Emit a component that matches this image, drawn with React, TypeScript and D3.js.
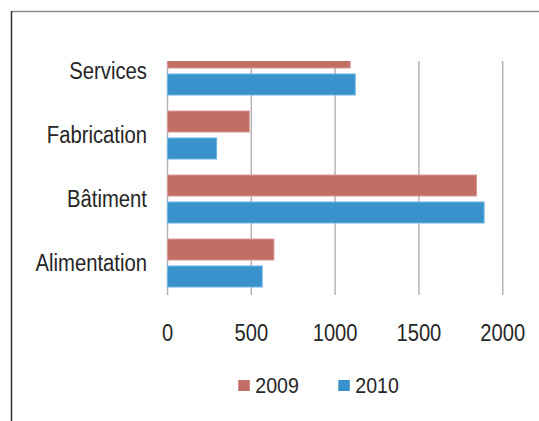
import React from 'react';
import * as d3 from 'd3';

// Chart data
const categories = ['Services', 'Fabrication', 'Bâtiment', 'Alimentation'];
const seriesNames = ['2009', '2010'];
const values2009 = [1090, 488, 1844, 635];
const values2010 = [1120, 293, 1889, 565];
const xTicks = [0, 500, 1000, 1500, 2000];

const colors: Record<string, { fill: string; edge: string }> = {
  '2009': { fill: '#c16e67', edge: '#d99a94' },
  '2010': { fill: '#3a92cc', edge: '#6cb4e2' },
};

const W = 539;
const H = 421;
const plotTop = 61;
const plotBottom = 295;
const FONT = 'Liberation Sans, Arial, sans-serif';

export default function App() {
  const x = d3.scaleLinear().domain([0, 2000]).range([167.5, 502.7]);

  // the first category band sits partly above the visible plot area (clipped)
  const y = d3.scaleBand<string>()
    .domain(categories)
    .range([plotBottom - 64 * categories.length, plotBottom]);

  const inner = d3.scaleBand<string>()
    .domain(seriesNames)
    .range([8, y.bandwidth() - 8])
    .paddingInner(6 / 27);

  const rows = categories.map((c, i) => ({
    category: c,
    bars: [
      { key: '2009', value: values2009[i] },
      { key: '2010', value: values2010[i] },
    ],
  }));

  return (
    <svg
      width={W}
      height={H}
      style={{ position: 'absolute', left: 0, top: 0, background: '#fff' }}
    >
      <defs>
        <clipPath id="plot-clip">
          <rect x={0} y={plotTop} width={W} height={plotBottom - plotTop + 1} />
        </clipPath>
      </defs>

      {/* outer frame (top and left edges visible) */}
      <line x1={11} x2={W} y1={11.5} y2={11.5} stroke="#8a8a8a" strokeWidth={1.5} />
      <line x1={11.5} x2={11.5} y1={11} y2={H} stroke="#333" strokeWidth={1.5} />

      {/* gridlines + ticks */}
      {xTicks.map(t => (
        <line
          key={t}
          x1={x(t)}
          x2={x(t)}
          y1={plotTop}
          y2={plotBottom}
          stroke="#b4b4b8"
          strokeWidth={1.5}
        />
      ))}

      {/* bars */}
      <g clipPath="url(#plot-clip)">
        {rows.map(r => (
          <g key={r.category} transform={`translate(0,${y(r.category)})`}>
            {r.bars.map(b => (
              <rect
                key={b.key}
                x={x(0)}
                y={inner(b.key)}
                width={x(b.value) - x(0)}
                height={inner.bandwidth()}
                fill={colors[b.key].fill}
                stroke={colors[b.key].edge}
                strokeWidth={1}
              />
            ))}
          </g>
        ))}
      </g>

      {/* category labels */}
      {categories.map(c => (
        <g key={c} transform={`translate(147,${(y(c) ?? 0) + y.bandwidth() / 2}) scale(0.87,1)`}>
          <text
            textAnchor="end"
            dy="0.36em"
            fontFamily={FONT}
            fontSize={23.3}
            fill="#262626"
          >
            {c}
          </text>
        </g>
      ))}

      {/* x tick labels */}
      {xTicks.map(t => (
        <g key={t} transform={`translate(${x(t)},340.7) scale(0.84,1)`}>
          <text textAnchor="middle" fontFamily={FONT} fontSize={24} fill="#262626">
            {t}
          </text>
        </g>
      ))}

      {/* legend */}
      {seriesNames.map((s, i) => (
        <g key={s} transform={`translate(${238.3 + i * 100},380)`}>
          <rect width={11.5} height={11} fill={colors[s].fill} />
          <g transform="translate(17,13.3) scale(0.89,1)">
            <text fontFamily={FONT} fontSize={22} fill="#262626">
              {s}
            </text>
          </g>
        </g>
      ))}
    </svg>
  );
}
